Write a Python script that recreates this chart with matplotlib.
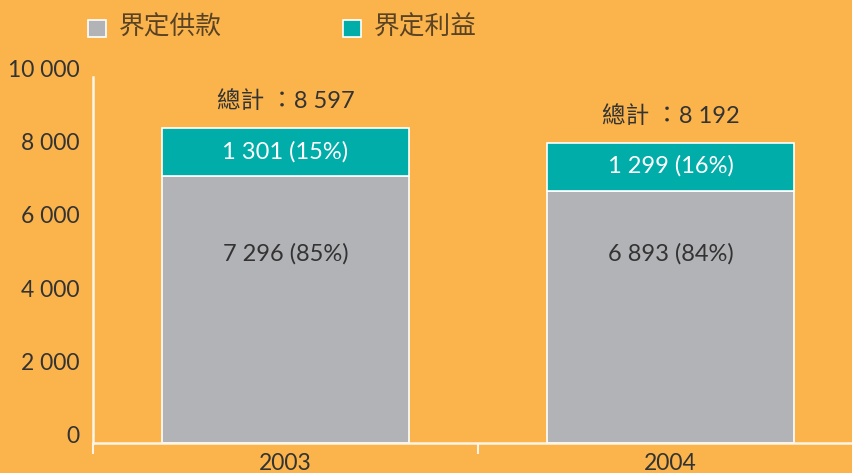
import numpy as np
import matplotlib.pyplot as plt
from matplotlib.patches import Rectangle

# 資料
years = ['2003', '2004']
defined_contrib = [7296, 6893]   # 界定供款
defined_benefit = [1301, 1299]   # 界定利益
contrib_pct = ['85%', '84%']
benefit_pct = ['15%', '16%']
totals = [8597, 8192]
yticks = [0, 2000, 4000, 6000, 8000, 10000]

bg = '#FBB44C'
grey = '#B2B3B6'
teal = '#00ADA9'
txt = '#333333'
plt.rcParams['font.family'] = ['Lato', 'Noto Sans CJK TC', 'DejaVu Sans']


def fmt(v):
    return '{:,}'.format(v).replace(',', ' ')


fig = plt.figure(figsize=(8.52, 4.73), dpi=100, facecolor=bg)
ax = fig.add_axes([93 / 852, 30 / 473, 770 / 852, 366 / 473])
ax.set_facecolor(bg)

x = np.arange(len(years)) + 0.5
w = 0.64
ax.bar(x, defined_contrib, w, color=grey, edgecolor='white', linewidth=1.2)
ax.bar(x, defined_benefit, w, bottom=defined_contrib, color=teal,
       edgecolor='white', linewidth=1.2)

for i in range(len(years)):
    ax.text(x[i], 5180, '{} ({})'.format(fmt(defined_contrib[i]), contrib_pct[i]),
            ha='center', va='center', fontsize=17, color=txt)
    ax.text(x[i], defined_contrib[i] + defined_benefit[i] / 2 + 20,
            '{} ({})'.format(fmt(defined_benefit[i]), benefit_pct[i]),
            ha='center', va='center', fontsize=17, color='white')
    ax.text(x[i], totals[i] + 750, '總計 ：{}'.format(fmt(totals[i])),
            ha='center', va='center', fontsize=17, color=txt)

ax.set_xlim(0, 2)
ax.set_ylim(0, 10000)
ax.set_yticks(yticks)
ax.set_yticklabels([fmt(v) for v in yticks], fontsize=16.5, color=txt)
ax.tick_params(axis='y', length=0, pad=9.5)
for lab in ax.get_yticklabels():
    lab.set_va('baseline')
ax.set_xticks([0, 1, 2])
ax.set_xticklabels([])
ax.tick_params(axis='x', length=8, width=1.5, color='#FFF5E6', direction='out')
for i, yr in enumerate(years):
    ax.text(x[i], -560, yr, ha='center', va='center', fontsize=16.5, color=txt)

for s in ['top', 'right']:
    ax.spines[s].set_visible(False)
for s in ['left', 'bottom']:
    ax.spines[s].set_color('#FFF5E6')
    ax.spines[s].set_linewidth(1.8)

# 圖例
legend_items = [('界定供款', grey, 88), ('界定利益', teal, 343)]
for label, col, px in legend_items:
    fig.patches.append(Rectangle((px / 852, 1 - 37 / 473), 18 / 852, 17 / 473,
                                 transform=fig.transFigure, facecolor=col,
                                 edgecolor='white', linewidth=1.2))
    fig.text((px + 31) / 852, 1 - 28 / 473, label,
             ha='left', va='center', fontsize=18.5, color='#5a4325',
             family=['Noto Sans CJK TC'])

fig.savefig('out.png', dpi=100, facecolor=bg)
